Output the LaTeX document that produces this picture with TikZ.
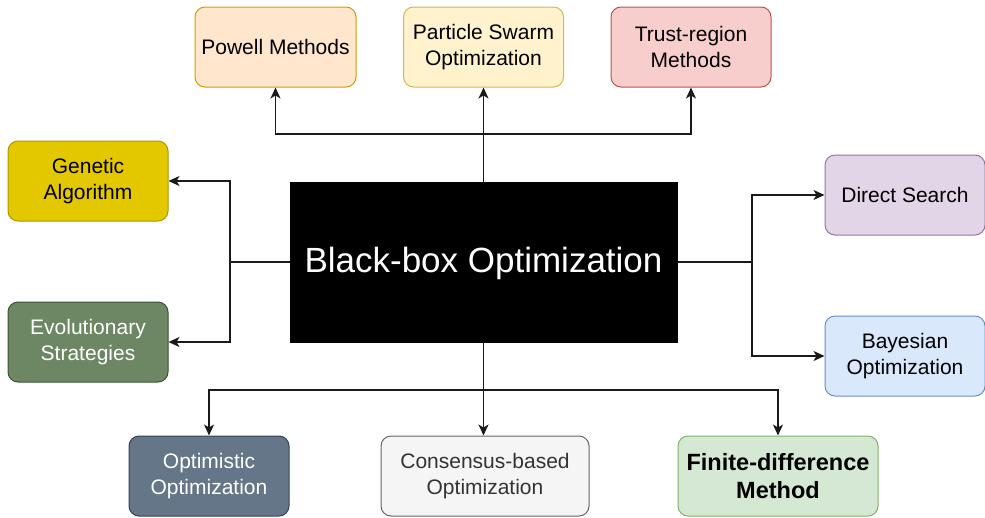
\documentclass[tikz,border=0pt]{standalone}
\usepackage{fontspec}
\setmainfont{Liberation Sans}
\usetikzlibrary{arrows.meta}
\definecolor{pwfill}{HTML}{FFE6CC}\definecolor{pwdraw}{HTML}{D79B00}
\definecolor{psofill}{HTML}{FFF2CC}\definecolor{psodraw}{HTML}{D6B656}
\definecolor{trfill}{HTML}{F8CECC}\definecolor{trdraw}{HTML}{B85450}
\definecolor{gafill}{HTML}{E3C800}\definecolor{gadraw}{HTML}{B09500}
\definecolor{esfill}{HTML}{6D8764}\definecolor{esdraw}{HTML}{3A5431}
\definecolor{dsfill}{HTML}{E1D5E7}\definecolor{dsdraw}{HTML}{9673A6}
\definecolor{bofill}{HTML}{DAE8FC}\definecolor{bodraw}{HTML}{6C8EBF}
\definecolor{oofill}{HTML}{647687}\definecolor{oodraw}{HTML}{314354}
\definecolor{cbfill}{HTML}{F5F5F5}\definecolor{cbdraw}{HTML}{666666}\definecolor{cbtext}{HTML}{333333}
\definecolor{fdfill}{HTML}{D5E8D4}\definecolor{fddraw}{HTML}{82B366}
\definecolor{linec}{HTML}{1A1A1A}
\begin{document}
\begin{tikzpicture}[x=1pt,y=-1pt,
 box/.style={draw, rounded corners=10pt, minimum width=160pt, minimum height=80pt,
   align=center, font=\fontsize{21}{26}\selectfont, line width=1pt, inner sep=2pt},
 conn/.style={draw=linec, line width=1.4pt, -{Stealth[length=11pt,width=10pt,inset=3pt]}},
 bus/.style={draw=linec, line width=1.4pt}]
\useasboundingbox (0,0) rectangle (985,517);
\node[draw=black, fill=black, minimum width=387pt, minimum height=160pt] (bb) at (483.5,262) {};
\node[text=white, font=\fontsize{35}{40}\selectfont, inner sep=0pt, anchor=center] (bbt) at (483.5,263.5) {Black-box Optimization};
\node[box, fill=pwfill, draw=pwdraw, minimum width=161pt] (pw) at (275.5,47) {Powell Methods};
\node[box, fill=psofill, draw=psodraw] (pso) at (483.5,47) {Particle Swarm\\Optimization};
\node[box, fill=trfill, draw=trdraw] (tr) at (691,47) {Trust-region\\Methods};
\node[box, fill=gafill, draw=gadraw] (ga) at (88,181) {Genetic\\Algorithm};
\node[box, fill=esfill, draw=esdraw, text=white] (es) at (88,342) {Evolutionary\\Strategies};
\node[box, fill=dsfill, draw=dsdraw] (ds) at (905,195) {Direct Search};
\node[box, fill=bofill, draw=bodraw] (bo) at (905,356) {Bayesian\\Optimization};
\node[box, fill=oofill, draw=oodraw, text=white] (oo) at (209,476) {Optimistic\\Optimization};
\node[box, fill=cbfill, draw=cbdraw, text=cbtext, minimum width=208pt] (cb) at (485,476) {Consensus-based\\Optimization};
\node[box, fill=fdfill, draw=fddraw, minimum width=200pt, font=\bfseries\fontsize{23.5}{28}\selectfont] (fd) at (778,476) {Finite-difference\\Method};
% top
\coordinate (tb) at (483.5,134);
\draw[conn] (bb.north) -- (pso.south);
\draw[conn] (tb) -| (pw.south);
\draw[conn] (tb) -| (tr.south);
% left
\coordinate (lb) at (230,262);
\draw[bus] (bb.west) -- (lb);
\draw[conn] (lb) |- (ga.east);
\draw[conn] (lb) |- (es.east);
% right
\coordinate (rb) at (752,262);
\draw[bus] (bb.east) -- (rb);
\draw[conn] (rb) |- (ds.west);
\draw[conn] (rb) |- (bo.west);
% bottom
\coordinate (bt) at (483.5,390);
\draw[conn] (bb.south) -- (bb.south |- cb.north);
\draw[conn] (bt) -| (oo.north);
\draw[conn] (bt) -| (fd.north);
\end{tikzpicture}
\end{document}
